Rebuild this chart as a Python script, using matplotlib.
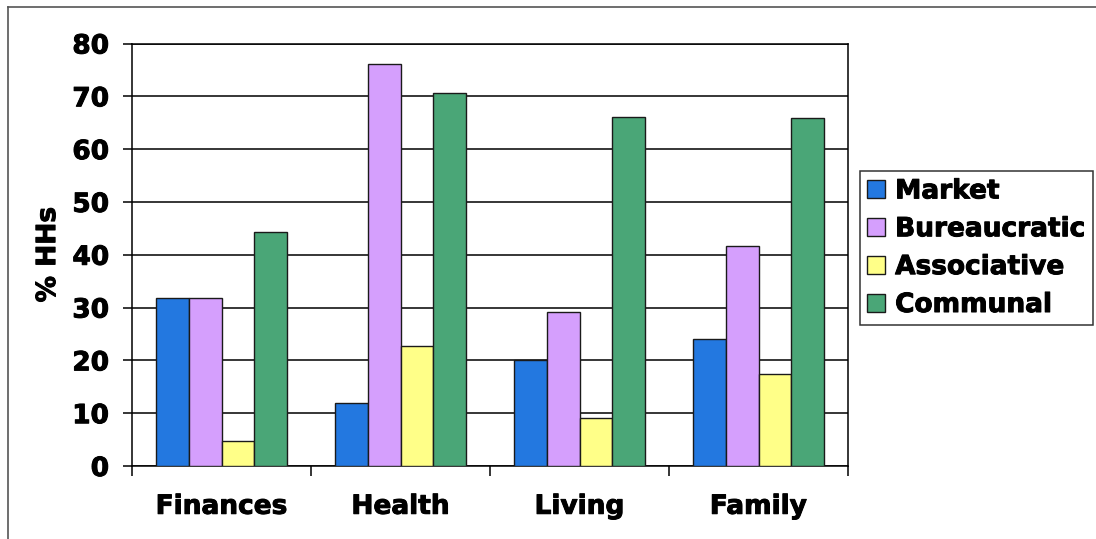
import numpy as np
import matplotlib
matplotlib.use('Agg')
import matplotlib.pyplot as plt
import matplotlib.patheffects as pe
from matplotlib.lines import Line2D

categories = ['Finances', 'Health', 'Living', 'Family']
series = ['Market', 'Bureaucratic', 'Associative', 'Communal']
market = [31.9, 11.9, 20.0, 24.0]
bureaucratic = [31.9, 76.1, 29.2, 41.7]
associative = [4.8, 22.8, 9.1, 17.4]
communal = [44.3, 70.7, 66.0, 65.8]
colors = ['#2378e0', '#d59ffd', '#ffff88', '#4aa677']
yticks = [0, 10, 20, 30, 40, 50, 60, 70, 80]

plt.rcParams['font.family'] = 'DejaVu Sans'
plt.rcParams['font.weight'] = 'bold'
fs = 19
heavy = [pe.withStroke(linewidth=0.7, foreground='black')]

fig = plt.figure(figsize=(10.96, 5.39), dpi=100)
ax = fig.add_axes([132/1096, 1-466/539, (848-132)/1096, (466-43.5)/539])

# outer chart frame, only left and top edges are in view
fx = 7.5/1096
fy = 1-6.5/539
fig.lines.append(Line2D([fx, fx], [0, fy], transform=fig.transFigure, color='#555555', lw=1.2))
fig.lines.append(Line2D([fx, 1], [fy, fy], transform=fig.transFigure, color='#555555', lw=1.2))

x = np.arange(len(categories))
w = 0.184
vals = [market, bureaucratic, associative, communal]
for i in range(4):
	ax.bar(x+(i-1.5)*w, vals[i], width=w, color=colors[i], edgecolor='#1a1a1a',
	       lw=1, label=series[i], zorder=3)

ax.set_xlim(-0.5, 3.5)
ax.set_ylim(0, 80)
ax.set_yticks(yticks)
ax.set_yticklabels([str(v) for v in yticks], fontsize=fs, fontweight='bold')
ax.yaxis.grid(True, color='black', lw=1.1, zorder=0)
ax.set_axisbelow(True)

ax.set_xticks([-0.5, 0.5, 1.5, 2.5, 3.5])
ax.set_xticklabels([])
ax.set_xticks(x, minor=True)
ax.set_xticklabels(categories, minor=True, fontsize=fs, fontweight='bold')
ax.tick_params(axis='x', which='major', direction='out', length=7, width=1.1)
ax.tick_params(axis='x', which='minor', length=0, pad=20)
ax.tick_params(axis='y', direction='out', length=6.5, width=1.1, pad=10)

for s in ax.spines.values():
	s.set_linewidth(1.1)
	s.set_color('black')

ax.set_ylabel('% HHs', fontsize=fs, fontweight='bold', labelpad=8)

leg = ax.legend(loc='upper left', bbox_to_anchor=(860/1096, 1-171/539),
                bbox_transform=fig.transFigure, fontsize=fs, frameon=True,
                fancybox=False, edgecolor='black', handlelength=0.65,
                handleheight=0.65, handletextpad=0.4, labelspacing=0.45,
                borderpad=0.28, borderaxespad=0)
leg.get_frame().set_linewidth(1.1)

texts = ax.get_xticklabels(minor=True)+ax.get_yticklabels()+leg.get_texts()+[ax.yaxis.label]
for t in texts:
	t.set_fontweight('bold')
	t.set_path_effects(heavy)

fig.savefig('out.png', dpi=100)
